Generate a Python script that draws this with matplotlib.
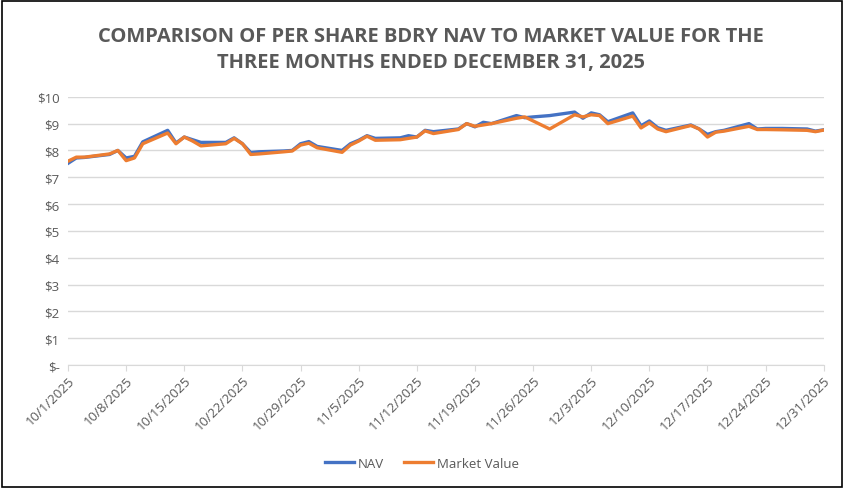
import matplotlib
matplotlib.use("Agg")
import matplotlib.pyplot as plt
import pandas as pd
from matplotlib.patches import Rectangle

dates = ["2025-10-01", "2025-10-02", "2025-10-03", "2025-10-06", "2025-10-07", "2025-10-08",
         "2025-10-09", "2025-10-10", "2025-10-13", "2025-10-14", "2025-10-15", "2025-10-16",
         "2025-10-17", "2025-10-20", "2025-10-21", "2025-10-22", "2025-10-23", "2025-10-24",
         "2025-10-27", "2025-10-28", "2025-10-29", "2025-10-30", "2025-10-31", "2025-11-03",
         "2025-11-04", "2025-11-05", "2025-11-06", "2025-11-07", "2025-11-10", "2025-11-11",
         "2025-11-12", "2025-11-13", "2025-11-14", "2025-11-17", "2025-11-18", "2025-11-19",
         "2025-11-20", "2025-11-21", "2025-11-24", "2025-11-25", "2025-11-26", "2025-11-28",
         "2025-12-01", "2025-12-02", "2025-12-03", "2025-12-04", "2025-12-05", "2025-12-08",
         "2025-12-09", "2025-12-10", "2025-12-11", "2025-12-12", "2025-12-15", "2025-12-16",
         "2025-12-17", "2025-12-18", "2025-12-19", "2025-12-22", "2025-12-23", "2025-12-24",
         "2025-12-26", "2025-12-29", "2025-12-30", "2025-12-31"]

nav = [7.52, 7.72, 7.74, 7.85, 8.00, 7.72, 7.78, 8.32, 8.75, 8.28, 8.50, 8.40,
       8.30, 8.30, 8.47, 8.25, 7.92, 7.95, 7.98, 8.00, 8.25, 8.33, 8.15, 8.00,
       8.25, 8.38, 8.55, 8.45, 8.47, 8.55, 8.50, 8.75, 8.70, 8.80, 9.00, 8.88,
       9.05, 9.00, 9.30, 9.22, 9.25, 9.30, 9.43, 9.20, 9.40, 9.33, 9.07, 9.40,
       8.92, 9.10, 8.85, 8.75, 8.95, 8.80, 8.60, 8.70, 8.75, 9.00, 8.80, 8.82,
       8.82, 8.80, 8.72, 8.77]

market = [7.60, 7.75, 7.75, 7.87, 8.00, 7.62, 7.72, 8.25, 8.65, 8.25, 8.50, 8.35,
          8.17, 8.25, 8.45, 8.25, 7.85, 7.87, 7.95, 7.98, 8.20, 8.27, 8.10, 7.93,
          8.20, 8.35, 8.53, 8.38, 8.40, 8.45, 8.50, 8.73, 8.63, 8.78, 9.00, 8.90,
          8.95, 9.00, 9.20, 9.25, 9.10, 8.80, 9.33, 9.25, 9.33, 9.30, 9.00, 9.28,
          8.84, 9.03, 8.80, 8.70, 8.93, 8.80, 8.50, 8.68, 8.72, 8.90, 8.78, 8.78,
          8.77, 8.75, 8.70, 8.76]

tick_dates = ["2025-10-01", "2025-10-08", "2025-10-15", "2025-10-22", "2025-10-29",
              "2025-11-05", "2025-11-12", "2025-11-19", "2025-11-26", "2025-12-03",
              "2025-12-10", "2025-12-17", "2025-12-24", "2025-12-31"]
tick_labels = ["10/1/2025", "10/8/2025", "10/15/2025", "10/22/2025", "10/29/2025",
               "11/5/2025", "11/12/2025", "11/19/2025", "11/26/2025", "12/3/2025",
               "12/10/2025", "12/17/2025", "12/24/2025", "12/31/2025"]
y_ticks = [0, 1, 2, 3, 4, 5, 6, 7, 8, 9, 10]
y_labels = ["$-", "$1", "$2", "$3", "$4", "$5", "$6", "$7", "$8", "$9", "$10"]

plt.rcParams['font.family'] = ['Open Sans', 'DejaVu Sans']
text_gray = "#595959"

fig = plt.figure(figsize=(8.44, 4.89), dpi=100)
ax = fig.add_axes([0.0806, 0.2515, 0.8954, 0.5485])

x = pd.to_datetime(dates)
ax.plot(x, nav, color="#4472C4", linewidth=2.4, label="NAV", solid_joinstyle="round")
ax.plot(x, market, color="#ED7D31", linewidth=2.4, label="Market Value", solid_joinstyle="round")

ax.set_xlim(pd.Timestamp("2025-10-01"), pd.Timestamp("2025-12-31"))
ax.set_ylim(0, 10)
ax.set_yticks(y_ticks)
ax.set_yticklabels(y_labels, color=text_gray, fontsize=9.5)
ax.set_xticks(pd.to_datetime(tick_dates))
ax.set_xticklabels(tick_labels, rotation=45, ha="right", rotation_mode="anchor",
                   color=text_gray, fontsize=9.5)

ax.grid(axis="y", color="#D9D9D9", linewidth=1)
ax.set_axisbelow(True)
for s in ["top", "right", "left"]:
    ax.spines[s].set_visible(False)
ax.spines["bottom"].set_color("#D9D9D9")
ax.tick_params(axis="y", length=0, pad=6)
ax.tick_params(axis="x", length=4, color="#D9D9D9", pad=2)

fig.text(0.511, 0.925, "COMPARISON OF PER SHARE BDRY NAV TO MARKET VALUE FOR THE",
         ha="center", va="center", fontsize=14.5, fontweight="bold", color=text_gray)
fig.text(0.511, 0.871, "THREE MONTHS ENDED DECEMBER 31, 2025",
         ha="center", va="center", fontsize=14.5, fontweight="bold", color=text_gray)

fig.legend(loc="center", bbox_to_anchor=(0.5, 0.05), ncol=2, frameon=False,
           fontsize=9.5, labelcolor=text_gray, handlelength=2.2, columnspacing=1.5,
           handletextpad=0.3)

fig.patches.append(Rectangle((0.002, 0.002), 0.996, 0.994, transform=fig.transFigure,
                             fill=False, edgecolor="black", linewidth=1.2))

fig.savefig("out.png", dpi=100)
